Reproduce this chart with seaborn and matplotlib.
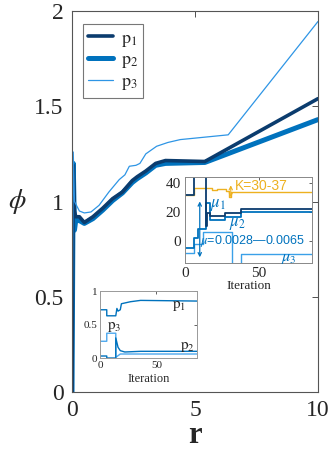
import numpy as np
import pandas as pd
import matplotlib
matplotlib.use("Agg")
import matplotlib.pyplot as plt
import seaborn as sns

# main curves: phi vs r
r_12 = [0, 0.05, 0.1, 0.15, 0.3, 0.5, 0.85, 1.25, 1.65, 2.05, 2.45, 2.65, 3.0, 3.4, 3.8, 5.4, 10]
phi_1 = [0, 1.19, 0.95, 0.92, 0.92, 0.89, 0.92, 0.965, 1.015, 1.05, 1.11, 1.13, 1.16, 1.2, 1.215, 1.21, 1.54]
phi_2 = [0, 1.20, 0.85, 0.90, 0.90, 0.885, 0.91, 0.955, 1.005, 1.045, 1.10, 1.12, 1.15, 1.19, 1.20, 1.205, 1.43]
r_3 = [0, 0.05, 0.1, 0.3, 0.5, 0.77, 1.1, 1.5, 1.92, 2.15, 2.33, 2.6, 2.76, 3.0, 3.44, 3.9, 4.4, 6.35, 10]
phi_3 = [0, 1.26, 1.0, 0.95, 0.94, 0.945, 0.98, 1.05, 1.115, 1.14, 1.185, 1.19, 1.2, 1.25, 1.29, 1.31, 1.325, 1.35, 1.945]

# inset 1: K and mu per iteration
it_k = [0, 6, 6, 18, 18, 22, 22, 28, 28, 30, 30, 31, 31, 86]
k_val = [31.5, 31.5, 36.5, 36.5, 35, 35, 35.5, 35.5, 34, 34, 30, 30, 33.3, 33.3]
it_m1 = [0, 6, 6, 14, 14, 15, 15, 17, 17, 27, 27, 38, 38, 86]
mu_1 = [31.5, 31.5, 50, 50, 10, 10, 19, 19, 17, 17, 19, 19, 21.7, 21.7]
it_m2 = [0, 6, 6, 9, 9, 14, 14, 17, 17, 27, 27, 38, 38, 86]
mu_2 = [-5, -5, 2, 2, 8, 8, 26, 26, 14.5, 14.5, 16.3, 16.3, 20.1, 20.1]
it_m3 = [0, 6, 6, 12, 12, 32, 32, 38, 38, 86]
mu_3 = [-8, -8, -2, -2, 6.4, 6.4, -20, -20, -9.1, -9.1]

# inset 2: p per iteration
it_p1 = [0, 6, 6, 14, 15, 16, 18, 19, 27, 36, 86]
p_1 = [0.72, 0.72, 0.63, 0.63, 0.74, 0.70, 0.72, 0.81, 0.84, 0.86, 0.85]
it_p2 = [0, 6, 6, 14, 14, 16, 18, 22, 36, 86]
p_2 = [0.03, 0.03, 0.0, 0.0, 0.30, 0.16, 0.11, 0.09, 0.10, 0.10]
it_p3 = [0, 6, 6, 14, 14, 18, 22, 86]
p_3 = [0.25, 0.25, 0.37, 0.37, 0.01, 0.06, 0.06, 0.06]

NAVY = "#0B3C6E"
BLUE = "#0072BD"
LIGHT = "#2E95E5"
ORANGE = "#EDB120"

sns.set_theme(style="white")
plt.rcParams["font.family"] = ["Liberation Serif", "DejaVu Serif"]
plt.rcParams["mathtext.fontset"] = "stix"
plt.rcParams["xtick.direction"] = "in"
plt.rcParams["ytick.direction"] = "in"

fig = plt.figure(figsize=(3.32, 4.59), dpi=100)
ax = fig.add_axes([0.2169, 0.146, 0.7409, 0.830])

sns.lineplot(x=r_12, y=phi_2, ax=ax, color=BLUE, lw=3.6, sort=False, estimator=None, label=r"$\mathrm{p}_2$")
sns.lineplot(x=r_12, y=phi_1, ax=ax, color=NAVY, lw=2.6, sort=False, estimator=None, label=r"$\mathrm{p}_1$")
sns.lineplot(x=r_3, y=phi_3, ax=ax, color=LIGHT, lw=0.9, sort=False, estimator=None, label=r"$\mathrm{p}_3$")

ax.set_xlim(0, 10)
ax.set_ylim(0, 2)
ax.set_xticks([0, 5, 10])
ax.set_xticklabels(["0", "5", "10"])
ax.set_yticks([0, 0.5, 1, 1.5, 2])
ax.set_yticklabels(["0", "0.5", "1", "1.5", "2"])
ax.tick_params(labelsize=17, top=True, right=True, length=4, width=0.6, color="#333333", pad=6)
for s in ax.spines.values():
    s.set_color("#555555")
    s.set_linewidth(0.8)
ax.set_xlabel("r", fontsize=22, fontweight="bold", labelpad=0)
ax.set_ylabel(r"$\phi$", fontsize=20, rotation=0, labelpad=12, va="center")

h, l = ax.get_legend_handles_labels()
order = [1, 0, 2]
leg = ax.legend([h[i] for i in order], [l[i] for i in order], loc="upper left",
                fontsize=13, frameon=True, fancybox=False, handlelength=1.4,
                handletextpad=0.4, borderpad=0.3, labelspacing=0.15, borderaxespad=0,
                bbox_to_anchor=(0.043, 0.965))
leg.get_frame().set_edgecolor("#555555")
leg.get_frame().set_linewidth(0.8)

# inset 1
ax1 = fig.add_axes([0.5572, 0.427, 0.3825, 0.188])
sns.lineplot(x=it_k, y=k_val, ax=ax1, color=ORANGE, lw=1.0, sort=False, estimator=None)
sns.lineplot(x=it_m3, y=mu_3, ax=ax1, color="#3AA0E8", lw=1.0, sort=False, estimator=None)
sns.lineplot(x=it_m2, y=mu_2, ax=ax1, color=BLUE, lw=1.3, sort=False, estimator=None)
sns.lineplot(x=it_m1, y=mu_1, ax=ax1, color=NAVY, lw=1.3, sort=False, estimator=None)
ax1.set_xlim(0, 86)
ax1.set_ylim(-15, 44)
ax1.set_xticks([0, 50])
ax1.set_yticks([0, 20, 40])
ax1.tick_params(labelsize=11, top=True, right=True, length=2.5, width=0.5, pad=3)
for s in ax1.spines.values():
    s.set_color("#888888")
    s.set_linewidth(0.7)
ax1.set_xlabel("Iteration", fontsize=9.5, labelpad=0)
ax1.annotate("", xy=(31, 28), xytext=(31, 40),
             arrowprops=dict(arrowstyle="<->", color=ORANGE, lw=0.8, mutation_scale=6))
ax1.text(34, 37.5, "K=30-37", color=ORANGE, fontsize=10, family="Liberation Sans", va="center")
ax1.annotate("", xy=(10, -13), xytext=(10, 29),
             arrowprops=dict(arrowstyle="<->", color=BLUE, lw=0.9, mutation_scale=6))
ax1.text(17, 25, r"$\mu_1$", color=BLUE, fontsize=12, va="center")
ax1.text(30, 12, r"$\mu_2$", color=BLUE, fontsize=12, va="center")
ax1.text(10.5, 0, r"$\mu$=0.0028—0.0065", color=BLUE, fontsize=9,
         family="Liberation Sans", va="center")
ax1.text(65, -11.5, r"$\mu_3$", color=BLUE, fontsize=11.5, va="center")

# inset 2
ax2 = fig.add_axes([0.3012, 0.22, 0.292, 0.146])
sns.lineplot(x=it_p3, y=p_3, ax=ax2, color="#4DA8EE", lw=1.0, sort=False, estimator=None)
sns.lineplot(x=it_p2, y=p_2, ax=ax2, color=BLUE, lw=1.0, sort=False, estimator=None)
sns.lineplot(x=it_p1, y=p_1, ax=ax2, color=BLUE, lw=1.0, sort=False, estimator=None)
ax2.set_xlim(0, 86)
ax2.set_ylim(0, 1)
ax2.set_xticks([0, 50])
ax2.set_yticks([0, 0.5, 1])
ax2.set_yticklabels(["0", "0.5", "1"])
ax2.tick_params(labelsize=8, top=True, right=True, length=2, width=0.5, pad=2)
for s in ax2.spines.values():
    s.set_color("#999999")
    s.set_linewidth(0.7)
ax2.set_xlabel("Iteration", fontsize=9, labelpad=2)
ax2.text(64, 0.77, r"$\mathrm{p}_1$", fontsize=11, va="center")
ax2.text(71, 0.17, r"$\mathrm{p}_2$", fontsize=11, va="center")
ax2.text(6, 0.46, r"$\mathrm{p}_3$", fontsize=11, va="center")

fig.savefig("out.png", dpi=100)
